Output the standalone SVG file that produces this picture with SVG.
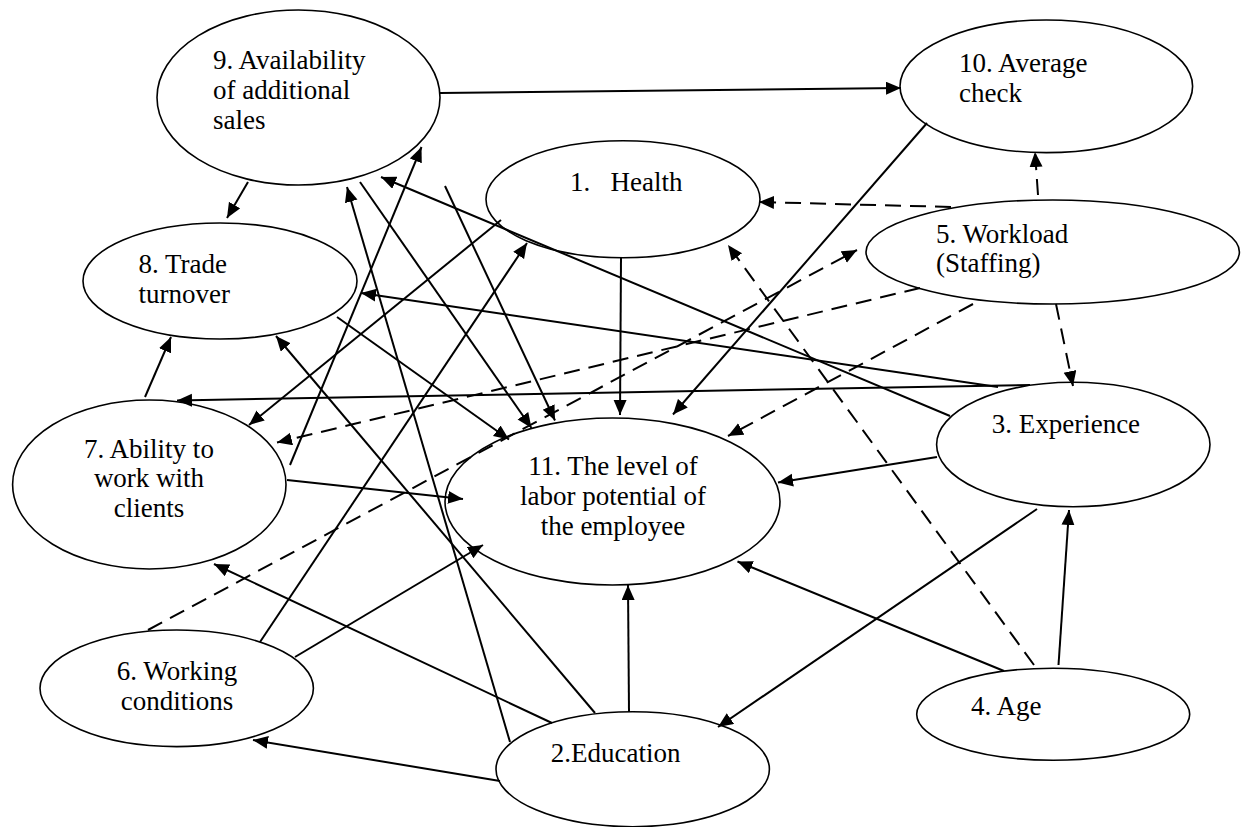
<svg xmlns="http://www.w3.org/2000/svg" width="1247" height="827" viewBox="0 0 1247 827">
<style>
.n ellipse{fill:#fff;stroke:#000;stroke-width:1.6}
.n text{font-family:"Liberation Serif","Times New Roman",serif;font-size:27px;fill:#000}
.c line{stroke:#000;stroke-width:2;fill:none;marker-end:url(#ah)}
.c line.d{stroke-dasharray:16 9}
</style>
<defs>
<marker id="ah" markerUnits="userSpaceOnUse" markerWidth="16" markerHeight="14" refX="15" refY="6.5" orient="auto">
<path d="M0,0 L15,6.5 L0,13 z" fill="#000"/>
</marker>
</defs>
<rect width="1247" height="827" fill="#fff"/>
<g id="n9" class="n" font-family="Liberation Serif, serif"><ellipse cx="298.5" cy="97.5" rx="141.5" ry="87.5"/>
<text x="213" y="69">9. Availability</text><text x="213" y="99">of additional</text><text x="213" y="129">sales</text></g>
<g id="n10" class="n" font-family="Liberation Serif, serif"><ellipse cx="1046.3" cy="86.3" rx="146.3" ry="66.3"/>
<text x="959" y="72">10. Average</text><text x="959" y="102">check</text></g>
<g id="n1" class="n" font-family="Liberation Serif, serif"><ellipse cx="623" cy="199.3" rx="137" ry="58.5"/>
<text x="570" y="191" xml:space="preserve" style="white-space:pre">1.   Health</text></g>
<g id="n5" class="n" font-family="Liberation Serif, serif"><ellipse cx="1052.7" cy="252" rx="186.7" ry="52"/>
<text x="936" y="242.5">5. Workload</text><text x="936" y="272">(Staffing)</text></g>
<g id="n8" class="n" font-family="Liberation Serif, serif"><ellipse cx="220" cy="281" rx="137" ry="58"/>
<text x="138.5" y="273">8. Trade</text><text x="138.5" y="303">turnover</text></g>
<g id="n7" class="n" font-family="Liberation Serif, serif"><ellipse cx="149.3" cy="484.5" rx="136.7" ry="84.5"/>
<text x="149" y="458" text-anchor="middle">7. Ability to</text><text x="149" y="487" text-anchor="middle">work with</text><text x="149" y="517" text-anchor="middle">clients</text></g>
<g id="n11" class="n" font-family="Liberation Serif, serif"><ellipse cx="612.5" cy="501.5" rx="167.5" ry="83.5"/>
<text x="613" y="475" text-anchor="middle">11. The level of</text><text x="613" y="505" text-anchor="middle">labor potential of</text><text x="613" y="535" text-anchor="middle">the employee</text></g>
<g id="n3" class="n" font-family="Liberation Serif, serif"><ellipse cx="1073.3" cy="444.5" rx="136.7" ry="62.2"/>
<text x="991.7" y="433">3. Experience</text></g>
<g id="n6" class="n" font-family="Liberation Serif, serif"><ellipse cx="176.7" cy="688.3" rx="136.7" ry="58.3"/>
<text x="177" y="680" text-anchor="middle">6. Working</text><text x="177" y="710" text-anchor="middle">conditions</text></g>
<g id="n2" class="n" font-family="Liberation Serif, serif"><ellipse cx="632.7" cy="769.2" rx="136.7" ry="57.5"/>
<text x="550.7" y="762">2.Education</text></g>
<g id="n4" class="n" font-family="Liberation Serif, serif"><ellipse cx="1053.2" cy="714.2" rx="136.5" ry="46"/>
<text x="971" y="715">4. Age</text></g>
<g id="connectors" class="c">
<line x1="440" y1="93" x2="901" y2="88"/>
<line x1="248" y1="182" x2="227" y2="218"/>
<line x1="145" y1="397" x2="171" y2="337"/>
<line x1="1030" y1="385" x2="177" y2="400.5"/>
<line x1="998" y1="387" x2="361" y2="293"/>
<line x1="950" y1="416" x2="381" y2="177"/>
<line class="d" x1="951" y1="207" x2="759" y2="202"/>
<line class="d" x1="1038" y1="195" x2="1035" y2="152"/>
<line class="d" x1="1056" y1="304" x2="1073" y2="386"/>
<line class="d" x1="973" y1="304" x2="728" y2="436"/>
<line class="d" x1="920" y1="288" x2="277" y2="442.5"/>
<line class="d" x1="148" y1="630" x2="857" y2="250"/>
<line x1="287" y1="480" x2="463" y2="499"/>
<line x1="290" y1="465" x2="421.5" y2="147"/>
<line x1="260" y1="642" x2="527" y2="243"/>
<line x1="295" y1="657" x2="483" y2="545"/>
<line x1="501" y1="220" x2="249" y2="425"/>
<line x1="621" y1="258" x2="620" y2="415"/>
<line x1="927" y1="123" x2="673" y2="414.5"/>
<line x1="937" y1="457" x2="778" y2="482.5"/>
<line x1="1037" y1="509" x2="718" y2="727"/>
<line x1="1058.5" y1="665" x2="1069" y2="510"/>
<line x1="1004" y1="671" x2="737.5" y2="561.5"/>
<line class="d" x1="1034" y1="665" x2="728" y2="245"/>
<line x1="510" y1="742" x2="347" y2="187"/>
<line x1="595" y1="713" x2="276" y2="336"/>
<line x1="552" y1="723" x2="214" y2="564"/>
<line x1="500" y1="781" x2="253" y2="740"/>
<line x1="629" y1="712" x2="628" y2="585"/>
<line x1="360" y1="182" x2="531.5" y2="428"/>
<line x1="445" y1="186" x2="555" y2="420.5"/>
<line x1="337" y1="317" x2="509" y2="439.5"/>
</g>
</svg>
